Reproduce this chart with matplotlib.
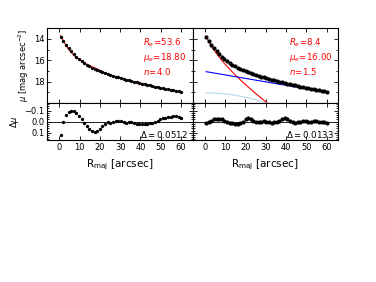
import numpy as np
import matplotlib
matplotlib.use('Agg')
import matplotlib.pyplot as plt
from matplotlib.ticker import MultipleLocator

# radii of the profile points [arcsec]
R = [0.7, 2.0, 3.3, 4.6, 5.9, 7.2, 8.4, 9.7, 11.0, 12.3, 13.6, 14.9, 16.2, 17.5,
     18.8, 20.1, 21.3, 22.6, 23.9, 25.2, 26.5, 27.8, 29.1, 30.4, 31.7, 33.0, 34.2,
     35.5, 36.8, 38.1, 39.4, 40.7, 42.0, 43.3, 44.6, 45.9, 47.1, 48.4, 49.7, 51.0,
     52.3, 53.6, 54.9, 56.2, 57.5, 58.8, 60.0]
# surface brightness [mag arcsec^-2]
mu = [13.82, 14.17, 14.55, 14.88, 15.17, 15.44, 15.66, 15.88, 16.07, 16.25, 16.41,
      16.56, 16.69, 16.81, 16.92, 17.02, 17.12, 17.21, 17.30, 17.38, 17.46, 17.54,
      17.61, 17.68, 17.75, 17.82, 17.88, 17.95, 18.01, 18.07, 18.13, 18.19, 18.25,
      18.30, 18.36, 18.41, 18.47, 18.52, 18.57, 18.62, 18.67, 18.72, 18.76, 18.81,
      18.85, 18.90, 18.94]
# residuals, single sersic fit
dmu_1 = [0.12, 0.0, -0.06, -0.09, -0.10, -0.095, -0.08, -0.05, -0.02, 0.01, 0.04,
         0.065, 0.08, 0.09, 0.085, 0.065, 0.04, 0.02, 0.005, 0.01, 0.005, -0.005,
         -0.01, -0.005, 0.005, 0.01, 0.005, 0.0, 0.01, 0.02, 0.025, 0.025, 0.02,
         0.02, 0.015, 0.01, 0.0, -0.01, -0.02, -0.03, -0.035, -0.04, -0.045, -0.05,
         -0.05, -0.04, -0.03]
# residuals, bulge + disk + extra component
dmu_2 = [0.01, 0.0, -0.01, -0.02, -0.025, -0.025, -0.02, -0.01, 0.0, 0.01, 0.015,
         0.02, 0.02, 0.015, 0.0, -0.02, -0.03, -0.025, -0.01, 0.0, 0.005, 0.0,
         -0.005, 0.0, 0.005, 0.01, 0.005, 0.0, -0.01, -0.025, -0.03, -0.025, -0.01,
         0.005, 0.01, 0.005, 0.0, -0.005, -0.005, 0.0, 0.0, -0.005, -0.005, 0.0,
         0.005, 0.005, 0.01]

# components of the 2nd fit
R_bulge = [0.7, 1, 2, 4, 6, 8, 10, 12, 15, 18, 21, 24, 27, 30, 33]
mu_bulge = [13.72, 13.85, 14.25, 14.88, 15.43, 15.92, 16.37, 16.78, 17.37, 17.92,
            18.44, 18.94, 19.42, 19.88, 20.32]
R_disk = [0.7, 20, 40, 60]
mu_disk = [17.07, 17.70, 18.35, 19.00]
R_comp = [0.7, 5, 10, 15, 20, 25, 30, 33]
mu_comp = [19.05, 19.08, 19.15, 19.28, 19.46, 19.70, 19.98, 20.20]

fits = [
    dict(Re='53.6', mue='18.80', n='4.0', rms='0.0512', dmu=dmu_1, ms=2.4),
    dict(Re='8.4', mue='16.00', n='1.5', rms='0.0133', dmu=dmu_2, ms=3.0),
]

fig = plt.figure(figsize=(3.76, 2.82), dpi=100)
x0, xm, x1 = 0.125, 0.512, 0.899
yb, ym, yt = 0.502, 0.635, 0.900

fs = 6
tfs = 6.2
for i, f in enumerate(fits):
    left = x0 if i == 0 else xm
    w = xm - x0 if i == 0 else x1 - xm
    ax = fig.add_axes([left, ym, w, yt - ym])
    axr = fig.add_axes([left, yb, w, ym - yb])

    if i == 0:
        model = np.array(mu) - np.array(f['dmu'])
        ax.plot(R, model, color='r', lw=0.8)
    else:
        ax.plot(R_bulge, mu_bulge, color='r', lw=0.8)
        ax.plot(R_disk, mu_disk, color='b', lw=0.8)
        ax.plot(R_comp, mu_comp, color='lightblue', lw=0.8)
    ax.plot(R, mu, 'o', color='k', ms=f['ms'], mec='k', mew=0)

    label = '\n'.join([r'$R_e\!=\!%s$' % f['Re'],
                       r'$\mu_e\!=\!%s$' % f['mue'],
                       r'$n\!=\!%s$' % f['n']])
    ax.text(0.66, 0.895, label, color='r', fontsize=tfs, linespacing=1.25,
            transform=ax.transAxes, va='top', ha='left')

    axr.axhline(0, color='k', lw=0.6)
    axr.plot(R, f['dmu'], 'o', color='k', ms=f['ms'], mew=0)
    axr.text(0.97, 0.17, r'$\Delta=%s$' % f['rms'], fontsize=tfs,
             transform=axr.transAxes, ha='right', va='center')

    ax.set_xlim(-6, 65.6)
    axr.set_xlim(-6, 65.6)
    ax.set_ylim(20, 13)
    axr.set_ylim(0.17, -0.17)
    ax.set_yticks([14, 16, 18])
    ax.yaxis.set_minor_locator(MultipleLocator(1))
    axr.set_yticks([-0.1, 0.0, 0.1])
    axr.yaxis.set_minor_locator(MultipleLocator(0.02))
    for a in (ax, axr):
        a.set_xticks([0, 10, 20, 30, 40, 50, 60])
        a.tick_params(direction='in', which='both', top=True, right=True,
                      labelsize=fs, width=0.6, pad=2)
        a.tick_params(which='major', length=3)
        a.tick_params(which='minor', length=1.5)
        for s in a.spines.values():
            s.set_linewidth(0.8)
    ax.set_xticklabels([])
    axr.set_xticklabels(['0', '10', '20', '30', '40', '50', '60'])
    axr.set_xlabel(r'R$_{\rm maj}$ [arcsec]', fontsize=7.5, labelpad=4)
    if i == 0:
        ax.set_ylabel(r'$\mu$ [mag arcsec$^{-2}$]', fontsize=fs, labelpad=2)
        axr.set_ylabel(r'$\Delta\mu$', fontsize=fs, labelpad=2)
    else:
        ax.set_yticklabels([])
        axr.set_yticklabels([])

fig.savefig('out.png', dpi=100)
